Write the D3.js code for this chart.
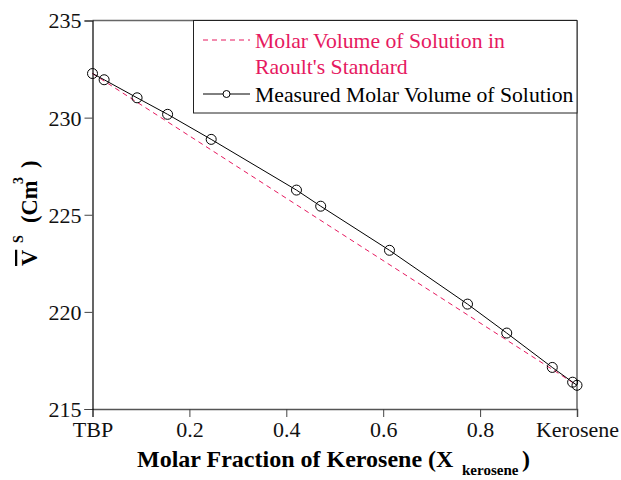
<!DOCTYPE html>
<html><head><meta charset="utf-8">
<script src="https://cdn.jsdelivr.net/npm/d3@7"></script>
<style>body{margin:0;background:#fff}svg{display:block}
svg text{font-family:"Liberation Serif","Tinos","Times New Roman","Nimbus Roman","DejaVu Serif",serif !important}</style>
</head><body>
<script>
const measuredX = [0, 0.024, 0.092, 0.155, 0.245, 0.421, 0.471, 0.613, 0.774, 0.855, 0.949, 0.991, 1.0];
const measuredY = [232.27, 231.95, 231.02, 230.17, 228.88, 226.27, 225.44, 223.17, 220.40, 218.91, 217.14, 216.38, 216.22];
const raoultX = [0, 1];
const raoultY = [232.27, 216.22];
const xTickVals = [0, 0.2, 0.4, 0.6, 0.8, 1];
const xTickLabels = ["TBP", "0.2", "0.4", "0.6", "0.8", "Kerosene"];
const yTickVals = [215, 220, 225, 230, 235];

const W = 621, H = 480;
const m = {l: 92.5, r: 577, t: 20.5, b: 409};
const pink = "#e6195f";
const svg = d3.select("body").append("svg").attr("width", W).attr("height", H);
const x = d3.scaleLinear().domain([0, 1]).range([m.l, m.r]);
const y = d3.scaleLinear().domain([215, 235]).range([m.b, m.t]);

svg.append("line").attr("x1", m.l).attr("x2", m.r).attr("y1", m.t).attr("y2", m.t).attr("stroke", "#666").attr("stroke-width", 1.5);
svg.append("line").attr("x1", m.r).attr("x2", m.r).attr("y1", m.t).attr("y2", m.b).attr("stroke", "#666").attr("stroke-width", 1.5);

const xAxis = svg.append("g").attr("transform", `translate(0,${m.b})`)
  .call(d3.axisBottom(x).tickValues(xTickVals).tickFormat((d, i) => xTickLabels[i]).tickSize(8).tickPadding(4));
const yAxis = svg.append("g").attr("transform", `translate(${m.l},0)`)
  .call(d3.axisLeft(y).tickValues(yTickVals).tickFormat(d3.format("d")).tickSize(8).tickPadding(3));
[xAxis, yAxis].forEach(g => {
  g.attr("font-family", null);
  g.selectAll("text").attr("font-size", 22).attr("fill", "#111");
  g.selectAll("line").attr("stroke", "#444");
});
xAxis.select(".domain").attr("stroke", "#555").attr("stroke-width", 1.5);
yAxis.select(".domain").attr("stroke", "#000").attr("stroke-width", 1.2);
yAxis.selectAll("text").attr("dy", "0.34em");

const lineGen = d3.line().x(d => x(d[0])).y(d => y(d[1]));
svg.append("path").datum(raoultX.map((v, i) => [v, raoultY[i]]))
  .attr("d", lineGen).attr("fill", "none").attr("stroke", pink).attr("stroke-width", 1).attr("stroke-dasharray", "5,4");

const meas = measuredX.map((v, i) => [v, measuredY[i]]);
svg.append("path").datum(meas).attr("d", lineGen).attr("fill", "none").attr("stroke", "#000").attr("stroke-width", 1);
svg.selectAll("circle.pt").data(meas).enter().append("circle").attr("class", "pt")
  .attr("cx", d => x(d[0])).attr("cy", d => y(d[1])).attr("r", 5)
  .attr("fill", "none").attr("stroke", "#000").attr("stroke-width", 1);

const lg = svg.append("g");
lg.append("rect").attr("x", 193.5).attr("y", m.t).attr("width", m.r - 193.5).attr("height", 92.5)
  .attr("fill", "#fff").attr("stroke", "#222").attr("stroke-width", 1);
lg.append("line").attr("x1", 203).attr("x2", 250).attr("y1", 40).attr("y2", 40).attr("stroke", pink).attr("stroke-dasharray", "5,4");
lg.append("text").attr("x", 255).attr("y", 48).attr("font-size", 21.7).attr("fill", pink).text("Molar Volume of Solution in");
lg.append("text").attr("x", 255).attr("y", 74).attr("font-size", 21.7).attr("fill", pink).text("Raoult's Standard");
lg.append("line").attr("x1", 203).attr("x2", 250).attr("y1", 94).attr("y2", 94).attr("stroke", "#000");
lg.append("circle").attr("cx", 226.5).attr("cy", 94).attr("r", 3.5).attr("fill", "#fff").attr("stroke", "#000");
lg.append("text").attr("x", 255).attr("y", 101.5).attr("font-size", 21.7).attr("fill", "#000").text("Measured Molar Volume of Solution");

// x title
const xt = svg.append("text").attr("y", 467).attr("font-size", 24).attr("font-weight", "bold").attr("fill", "#000");
xt.append("tspan").attr("x", 137).text("Molar Fraction of Kerosene (X");
xt.append("tspan").attr("x", 462).attr("y", 475).attr("font-size", 15).text("kerosene");
xt.append("tspan").attr("x", 522).attr("y", 467).text(")");

// y title (rotated; text x = -screenY)
const yt = svg.append("text").attr("transform", "translate(37,0) rotate(-90)").attr("font-size", 22.5).attr("font-weight", "bold").attr("fill", "#000");
yt.append("tspan").attr("x", -266).attr("y", 0).attr("text-decoration", "overline").text("V");
yt.append("tspan").attr("x", -243).attr("y", -14).attr("font-size", 14).text("S");
yt.append("tspan").attr("x", -223).attr("y", 0).text("(Cm");
yt.append("tspan").attr("x", -184).attr("y", -14).attr("font-size", 14).text("3");
yt.append("tspan").attr("x", -168).attr("y", 0).text(")");
</script>
</body></html>
